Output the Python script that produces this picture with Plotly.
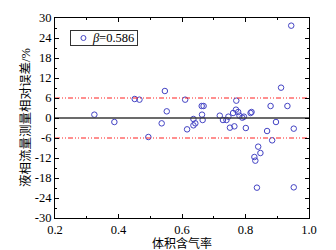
import plotly.graph_objects as go

gas_fraction = [0.324, 0.387, 0.451, 0.466, 0.546, 0.536, 0.552, 0.610, 0.616, 0.636,
                0.636, 0.642, 0.662, 0.668, 0.663, 0.665, 0.719, 0.729, 0.740, 0.746,
                0.751, 0.765, 0.761, 0.771, 0.770, 0.777, 0.781, 0.790, 0.795, 0.801,
                0.816, 0.819, 0.868, 0.879, 0.896, 0.912, 0.932, 0.944, 0.952, 0.494,
                0.828, 0.831, 0.840, 0.847, 0.884, 0.836, 0.952]
rel_error = [1.0, -1.2, 5.7, 5.5, 8.1, -1.6, 2.0, 5.5, -3.4, -0.3,
             -2.2, -1.6, 3.6, 3.6, 1.0, -0.6, 0.7, -0.6, -0.6, 0.4,
             -2.9, -2.5, 1.5, 5.2, 2.5, 1.8, 0.7, 0.1, 0.4, -3.0,
             1.5, 1.8, -3.9, 3.6, -1.2, 9.1, 3.6, 27.7, -3.2, -5.7,
             -11.7, -12.8, -8.6, -10.5, -6.7, -20.9, -20.8]
limits = [6, -6]
x_range = [0.2, 1.0]
y_range = [-30, 30]
x_ticks = [0.2, 0.4, 0.6, 0.8, 1.0]
y_ticks = [30, 24, 18, 12, 6, 0, -6, -12, -18, -24, -30]
series_label = "<i>β</i>=0.586"
x_title = "体积含气率"
y_title = "液相流量测量相对误差/%"

font = "Liberation Serif, Noto Sans CJK SC, serif"
marker_color = "#4444c4"

fig = go.Figure()
fig.add_trace(go.Scatter(
    x=gas_fraction, y=rel_error, mode="markers", showlegend=False,
    marker=dict(symbol="circle-open", size=5.5, color=marker_color, line=dict(width=1)),
))
fig.add_trace(go.Scatter(x=x_range, y=[0, 0], mode="lines", showlegend=False,
                         line=dict(color="#3a3a3a", width=1.5)))
for v in limits:
    fig.add_trace(go.Scatter(x=x_range, y=[v, v], mode="lines", showlegend=False,
                             line=dict(color="#ff2020", width=1,
                                       dash="5px,2px,1px,2px,1px,2px")))

# legend key marker drawn on an overlay axis in fractional coordinates
fig.add_trace(go.Scatter(x=[0.112], y=[0.9], xaxis="x2", yaxis="y2", mode="markers",
                         showlegend=False, hoverinfo="skip",
                         marker=dict(symbol="circle-open", size=5, color=marker_color,
                                     line=dict(width=1))))

axis_common = dict(showline=True, linecolor="black", linewidth=1.2, mirror="ticks",
                   ticks="inside", ticklen=4, tickcolor="black", showgrid=False,
                   zeroline=False, tickfont=dict(family=font, size=12.5, color="black"))
fig.update_xaxes(range=x_range, tickvals=x_ticks, ticktext=[f"{t:.1f}" for t in x_ticks],
                 minor=dict(dtick=0.1, ticks="inside", ticklen=2, tickcolor="black"),
                 **axis_common)
fig.update_yaxes(range=y_range, tickvals=y_ticks, ticktext=[str(t) for t in y_ticks],
                 minor=dict(dtick=3, ticks="inside", ticklen=2, tickcolor="black"),
                 **axis_common)
fig.update_layout(
    xaxis2=dict(overlaying="x", range=[0, 1], visible=False),
    yaxis2=dict(overlaying="y", range=[0, 1], visible=False),
    width=336, height=250, margin=dict(l=55, r=27, t=11, b=32),
    paper_bgcolor="white", plot_bgcolor="white", showlegend=False,
    annotations=[
        dict(text="&nbsp;" * 7 + series_label + "&nbsp;", xref="paper", yref="paper",
             x=0.059, y=0.9, xanchor="left", yanchor="middle", showarrow=False,
             bordercolor="#333333", borderwidth=1, borderpad=0, bgcolor="rgba(0,0,0,0)",
             font=dict(family=font, size=12.5, color="black")),
        dict(text=x_title, xref="paper", yref="paper", x=0.5, y=-0.126,
             xanchor="center", yanchor="middle", showarrow=False,
             font=dict(family=font, size=12, color="black")),
        dict(text=y_title, xref="paper", yref="paper", x=-0.118, y=0.5,
             xanchor="center", yanchor="middle", textangle=-90, showarrow=False,
             font=dict(family=font, size=12.5, color="black")),
    ],
)
fig.write_html("out.html", config={"displayModeBar": False},
               post_script="document.body.style.margin='0';")
